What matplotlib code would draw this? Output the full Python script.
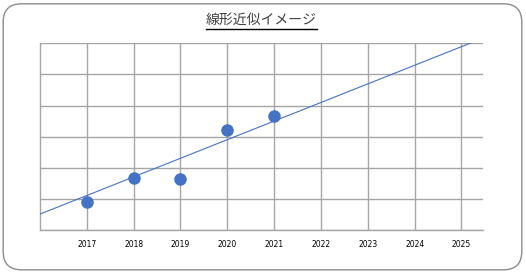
import numpy as np
import matplotlib
matplotlib.use('Agg')
import matplotlib.pyplot as plt
from matplotlib.patches import FancyBboxPatch

years = [2017, 2018, 2019, 2020, 2021]
values = [0.9, 1.69, 1.66, 3.22, 3.67]
tick_years = [2017, 2018, 2019, 2020, 2021, 2022, 2023, 2024, 2025]
# trend line (two end points)
trend_years = [2016, 2025.6]
trend_values = [0.52, 6.25]
title = '線形近似イメージ'

plt.rcParams['font.family'] = ['Noto Sans CJK JP', 'DejaVu Sans']

fig = plt.figure(figsize=(5.26, 2.72), dpi=100)

# rounded chart frame
frame = FancyBboxPatch((0.006, 0.008), 0.986, 0.978, boxstyle='round,pad=0,rounding_size=0.035',
                       transform=fig.transFigure, facecolor='white', edgecolor='#8c8c8c', lw=1.0,
                       mutation_aspect=526 / 272, zorder=-5)
fig.patches.append(frame)

ax = fig.add_axes([40 / 526, 41.7 / 272, 443 / 526, 187 / 272])
ax.patch.set_alpha(0)
ax.set_xlim(2016, 2025.46)
ax.set_ylim(0, 6)

ax.plot(trend_years, trend_values, color='#4472C4', lw=0.8, zorder=3, clip_on=True)
ax.plot(years, values, 'o', color='#4472C4', ms=8, zorder=4, clip_on=False)

ax.set_xticks(tick_years)
ax.set_xticklabels([str(y) for y in tick_years], fontsize=5.5, family='DejaVu Sans')
ax.set_yticks(range(0, 7))
ax.set_yticklabels([])
ax.tick_params(length=0, pad=7)
ax.grid(True, color='#a6a6a6', lw=1.0)
ax.set_axisbelow(True)
for s in ['top', 'right']:
    ax.spines[s].set_visible(False)
for s in ['left', 'bottom']:
    ax.spines[s].set_color('#a6a6a6')
    ax.spines[s].set_linewidth(1.0)

t = fig.text(261 / 526, 1 - 20 / 272, title, ha='center', va='center', fontsize=10, color='#404040')
fig.canvas.draw()
bb = t.get_window_extent().transformed(fig.transFigure.inverted())
fig.add_artist(plt.Line2D([bb.x0, bb.x1], [1 - 28.5 / 272] * 2, transform=fig.transFigure,
                          color='black', lw=1.0))

fig.savefig('out.png', dpi=100)
